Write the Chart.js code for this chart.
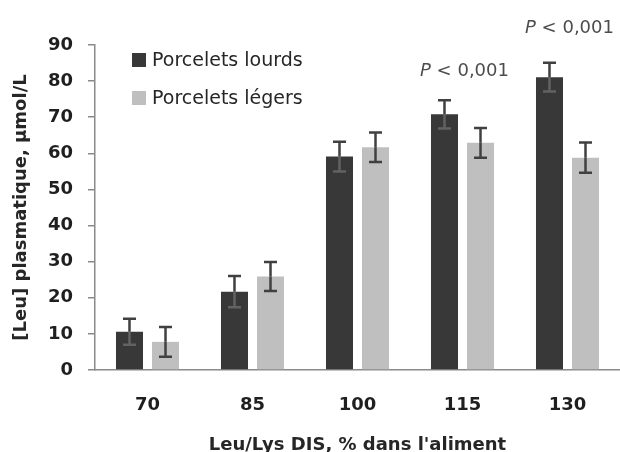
<!DOCTYPE html>
<html>
<head>
<meta charset="utf-8">
<script src="https://cdn.jsdelivr.net/npm/chart.js@4.4.1/dist/chart.umd.min.js"></script>
<style>
  html, body { margin: 0; padding: 0; background: #fff; }
  #wrap { width: 620px; height: 452px; position: relative; }
</style>
</head>
<body>
<div id="wrap"><canvas id="leuChart" width="620" height="452"></canvas></div>
<script>
// Leu/Lys ratio in feed (categories)
const ratios = ['70', '85', '100', '115', '130'];
// plasma leucine, µmol/L
const lourds = [10.6, 21.7, 59.1, 70.8, 81.1];
const lourdsErr = [3.6, 4.3, 4.1, 3.9, 4.0];
const legers = [7.8, 25.9, 61.7, 62.9, 58.8];
const legersErr = [4.1, 4.0, 4.1, 4.1, 4.2];
const yTicks = [0, 10, 20, 30, 40, 50, 60, 70, 80, 90];
// significance labels: category and height (axis units) of the text baseline
const pLabels = ['115', '130'];
const pLevels = [81.4, 93.4];
const pText = '< 0,001';

const FONT = "'DejaVu Sans', sans-serif";
const darkBar = '#383838';
const lightBar = '#bfbfbf';

// error bars drawn on top of the bars
const errorBars = {
  id: 'errorBars',
  afterDatasetsDraw(chart) {
    const ctx = chart.ctx;
    const y = chart.scales.y;
    const errs = [lourdsErr, legersErr];
    chart.data.datasets.forEach((ds, i) => {
      const meta = chart.getDatasetMeta(i);
      meta.data.forEach((bar, j) => {
        const v = ds.data[j];
        const top = y.getPixelForValue(v + errs[i][j]);
        const bot = y.getPixelForValue(v - errs[i][j]);
        const mid = y.getPixelForValue(v);
        const cx = bar.x;
        ctx.save();
        ctx.lineWidth = 2.5;
        ctx.strokeStyle = '#404040';
        ctx.beginPath();
        ctx.moveTo(cx, top); ctx.lineTo(cx, mid);
        ctx.moveTo(cx - 6.5, top); ctx.lineTo(cx + 6.5, top);
        ctx.stroke();
        // lower half sits inside the bar
        ctx.strokeStyle = i === 0 ? '#626262' : '#404040';
        ctx.beginPath();
        ctx.moveTo(cx, mid); ctx.lineTo(cx, bot);
        ctx.moveTo(cx - 6.5, bot); ctx.lineTo(cx + 6.5, bot);
        ctx.stroke();
        ctx.restore();
      });
    });
  }
};

// legend inside the plot + P annotations
const extras = {
  id: 'extras',
  afterDraw(chart) {
    const ctx = chart.ctx;
    const x = chart.scales.x;
    const y = chart.scales.y;
    ctx.save();
    chart.data.datasets.forEach((ds, i) => {
      const ty = 60 + i * 38;
      ctx.fillStyle = ds.backgroundColor;
      ctx.fillRect(132, ty - 7, 14, 14);
      ctx.fillStyle = '#262626';
      ctx.font = '19px ' + FONT;
      ctx.textAlign = 'left';
      ctx.textBaseline = 'middle';
      ctx.fillText(ds.label, 152, ty + 1);
    });
    pLabels.forEach((lab, k) => {
      const j = ratios.indexOf(lab);
      const cx = x.getPixelForValue(j) + 2;
      const by = y.getPixelForValue(pLevels[k]);
      ctx.textBaseline = 'alphabetic';
      ctx.textAlign = 'left';
      ctx.fillStyle = '#4d4d4d';
      ctx.font = 'italic 18px ' + FONT;
      const wP = ctx.measureText('P ').width;
      ctx.font = '18px ' + FONT;
      const wR = ctx.measureText(pText).width;
      const x0 = cx - (wP + wR) / 2;
      ctx.font = 'italic 18px ' + FONT;
      ctx.fillText('P', x0, by);
      ctx.font = '18px ' + FONT;
      ctx.fillText(pText, x0 + wP, by);
    });
    ctx.restore();
  }
};

new Chart(document.getElementById('leuChart'), {
  type: 'bar',
  data: {
    labels: ratios,
    datasets: [
      { label: 'Porcelets lourds', data: lourds, backgroundColor: darkBar, borderWidth: 0 },
      { label: 'Porcelets légers', data: legers, backgroundColor: lightBar, borderWidth: 0 }
    ]
  },
  options: {
    responsive: false,
    animation: false,
    events: [],
    layout: { padding: { top: 45, right: 0, bottom: 0, left: 0 } },
    categoryPercentage: 0.686,
    barPercentage: 0.75,
    plugins: {
      legend: { display: false },
      tooltip: { enabled: false }
    },
    scales: {
      x: {
        grid: { display: false },
        border: { display: true, color: '#8a8a8a', width: 1.5 },
        ticks: { color: '#1f1f1f', font: { family: FONT, size: 18, weight: 'bold' }, padding: 17 },
        title: {
          display: true,
          text: "Leu/Lys DIS, % dans l'aliment",
          color: '#262626',
          font: { family: FONT, size: 18, weight: 'bold', lineHeight: 1.2 },
          padding: { top: 0, bottom: -4 }
        },
        afterFit(scale) { scale.height = 82; }
      },
      y: {
        min: 0,
        max: 90,
        afterBuildTicks(scale) { scale.ticks = yTicks.map(v => ({ value: v })); },
        grid: { display: true, drawOnChartArea: false, drawTicks: true, tickLength: 7, color: '#8a8a8a', lineWidth: 1.5 },
        border: { display: true, color: '#8a8a8a', width: 1.5 },
        ticks: { color: '#1f1f1f', font: { family: FONT, size: 18, weight: 'bold' }, padding: 15 },
        title: {
          display: true,
          text: '[Leu] plasmatique, µmol/L',
          color: '#262626',
          font: { family: FONT, size: 18, weight: 'bold', lineHeight: 1.2 },
          padding: { top: 11, bottom: 0 }
        },
        afterFit(scale) { scale.width = 95; }
      }
    }
  },
  plugins: [errorBars, extras]
});
</script>
</body>
</html>
